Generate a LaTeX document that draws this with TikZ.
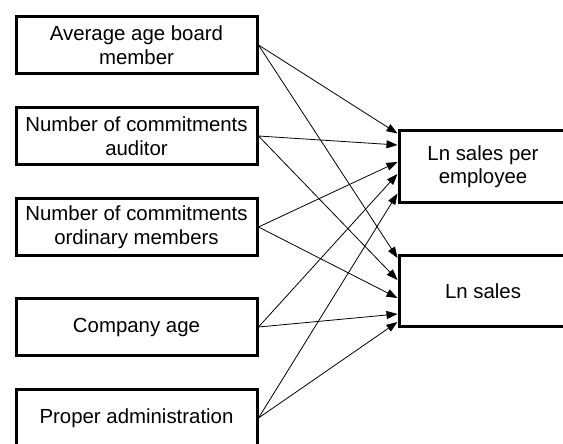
\documentclass[tikz,border=0pt]{standalone}
\usepackage{fontspec}
\setmainfont{Liberation Sans}
\usetikzlibrary{arrows.meta}
\begin{document}
\begin{tikzpicture}[x=1pt,y=1pt,
  inbox/.style={draw, line width=3pt, rectangle, minimum width=241pt, minimum height=57pt,
    align=center, font=\fontsize{20.4}{23.5}\selectfont, inner sep=0pt},
  outbox/.style={draw, line width=3pt, rectangle, minimum width=168pt, minimum height=71pt,
    align=center, font=\fontsize{20.4}{23.5}\selectfont, inner sep=0pt},
  link/.style={line width=0.8pt, -{Triangle[length=11pt,width=8pt]}}]
\useasboundingbox (0,0) rectangle (563,-444);
\clip (0,0) rectangle (563,-444);
\node[inbox] (b1) at (136.5,-45) {Average age board\\member};
\node[inbox] (b2) at (136.5,-136) {Number of commitments\\auditor};
\node[inbox] (b3) at (136.5,-227) {Number of commitments\\ordinary members};
\node[inbox] (b4) at (136.5,-327) {Company age};
\node[inbox] (b5) at (136.5,-418) {Proper administration};
\node[outbox] (A) at (483,-166.5) {Ln sales per\\employee};
\node[outbox] (B) at (483,-291) {Ln sales};
\coordinate (a1) at ([yshift=33pt]A.west);
\coordinate (a2) at ([yshift=21.5pt]A.west);
\coordinate (a3) at ([yshift=4.5pt]A.west);
\coordinate (a4) at ([yshift=-7.5pt]A.west);
\coordinate (a5) at ([yshift=-27pt]A.west);
\coordinate (c1) at ([yshift=33pt]B.west);
\coordinate (c2) at ([yshift=11pt]B.west);
\coordinate (c3) at ([yshift=-7pt]B.west);
\coordinate (c4) at ([yshift=-23pt]B.west);
\coordinate (c5) at ([yshift=-31pt]B.west);
\draw[link] (b1.east) -- (a1);
\draw[link] (b1.east) -- (c1);
\draw[link] (b2.east) -- (a2);
\draw[link] (b2.east) -- (c2);
\draw[link] (b3.east) -- (a3);
\draw[link] (b3.east) -- (c3);
\draw[link] (b4.east) -- (a4);
\draw[link] (b4.east) -- (c4);
\draw[link] (b5.east) -- (a5);
\draw[link] (b5.east) -- (c5);
\end{tikzpicture}
\end{document}
